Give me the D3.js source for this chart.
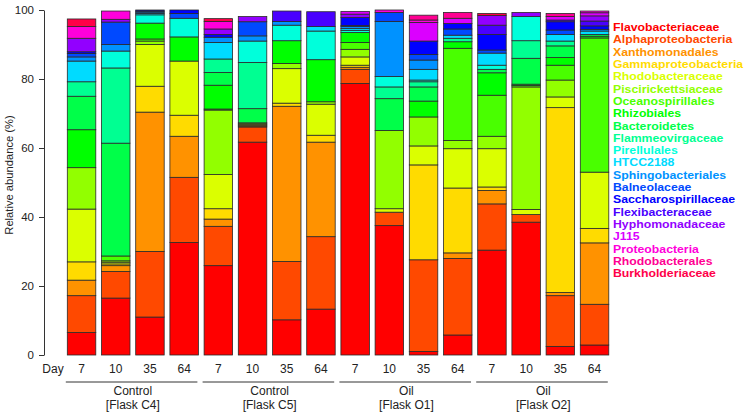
<!DOCTYPE html>
<html>
<head>
<meta charset="utf-8">
<script src="https://cdn.jsdelivr.net/npm/d3@7/dist/d3.min.js"></script>
<style>
    html, body { margin: 0; padding: 0; background: #fff; }
    svg { display: block; font-family: "Liberation Sans", Arial, Helvetica, sans-serif; }
    .axis path, .axis line { stroke: #333; }
    .axis text { fill: #222; font-size: 11.5px; }
</style>
</head>
<body>
<svg id="chart" width="750" height="418"></svg>
<script>
"use strict";

// taxa, bottom of the stack first (same order as the legend)
var taxa = [
    'Flavobacteriaceae', 'Alphaproteobacteria', 'Xanthomonadales', 'Gammaproteobacteria',
    'Rhodobacteraceae', 'Piscirickettsiaceae', 'Oceanospirillales', 'Rhizobiales',
    'Bacteroidetes', 'Flammeovirgaceae', 'Pirellulales', 'HTCC2188',
    'Sphingobacteriales', 'Balneolaceae', 'Saccharospirillaceae', 'Flexibacteraceae',
    'Hyphomonadaceae', 'J115', 'Proteobacteria', 'Rhodobacterales', 'Burkholderiaceae'
];

// rainbow(21)
var taxaColors = [
    '#FF0000', '#FF4900', '#FF9200', '#FFDB00', '#DBFF00', '#92FF00', '#49FF00',
    '#00FF00', '#00FF49', '#00FF92', '#00FFDB', '#00DBFF', '#0092FF', '#0049FF',
    '#0000FF', '#4900FF', '#9200FF', '#DB00FF', '#FF00DB', '#FF0092', '#FF0049'
];

var days = [7, 10, 35, 64];
var flasks = [
    { treatment: 'Control', flask: '[Flask C4]' },
    { treatment: 'Control', flask: '[Flask C5]' },
    { treatment: 'Oil', flask: '[Flask O1]' },
    { treatment: 'Oil', flask: '[Flask O2]' }
];

var yTicks = [0, 20, 40, 60, 80, 100];

// relative abundance (%) per sample, one row per taxon in the order above
// columns: C4 d7,10,35,64 | C5 d7,10,35,64 | O1 d7,10,35,64 | O2 d7,10,35,64
var abundance = [
    [ 6.5, 16.5, 11.0, 32.6, 25.9, 61.7, 10.2, 13.3, 78.7, 37.5,  1.0,  5.8, 30.4, 38.5,  2.5,  2.9],
    [10.7,  7.7, 19.0, 18.9, 11.4,  4.4, 16.9, 21.0,  4.1,  3.9, 26.6, 22.2, 13.4,  2.2, 14.7, 11.8],
    [ 4.5,  1.7, 40.4, 11.9,  2.1,  0.3, 45.0, 27.4,  0.6,  0.0,  0.0,  1.6,  3.9,  0.0,  0.9, 17.8],
    [ 5.3,  0.5,  7.5,  6.1,  3.0,  0.3,  0.9,  2.0,  0.6,  0.0, 27.5, 18.8,  1.0,  0.0, 53.6,  4.2],
    [15.3,  0.5, 12.1, 15.7,  9.9,  0.3, 10.0,  9.0,  2.4,  1.0,  5.5, 11.4, 11.1,  1.5,  3.1, 16.3],
    [12.0,  0.4,  1.0,  0.0, 18.7,  0.3,  1.5,  0.7,  2.2, 22.7,  8.4,  2.4,  3.6, 35.5,  4.9,  0.0],
    [ 0.0,  1.4,  0.6,  0.0,  0.3,  0.0,  0.0,  0.0,  2.0,  0.0,  0.0, 26.7, 11.9,  0.4,  4.3, 38.9],
    [11.0,  0.0,  4.6,  7.0,  6.9,  0.0,  6.6, 12.2,  2.9,  0.0,  4.6,  1.9,  6.5,  0.4,  2.2,  0.5],
    [ 9.7, 32.7,  0.0,  0.0,  3.7,  4.1,  0.0,  0.0,  0.0,  9.2,  4.1,  0.0,  1.0,  7.5,  3.4,  0.5],
    [ 4.2, 21.8,  0.0,  0.0,  3.9, 13.4,  0.0,  0.0,  0.0,  3.4,  1.5,  1.0,  0.0,  5.1,  1.4,  0.0],
    [ 0.0,  4.9,  2.4,  5.4,  0.0,  6.2,  4.5,  8.3,  0.6,  3.0,  0.5,  0.0,  1.2,  7.0,  0.0,  0.0],
    [ 6.0,  0.0,  0.4,  0.0,  4.8,  0.0,  0.0,  1.3,  0.5,  0.0,  3.1,  0.9,  3.5,  0.0,  1.9,  1.0],
    [ 1.2,  1.9,  0.4,  0.0,  1.5,  1.5,  1.1,  0.0,  0.6, 16.0,  2.7,  0.0,  0.0,  0.0,  0.0,  0.5],
    [ 1.0,  6.5,  0.3,  1.4,  0.0,  4.1,  0.0,  0.0,  0.3,  2.6,  1.6,  1.8,  0.9,  0.0,  1.3,  0.0],
    [ 0.5,  0.0,  0.3,  1.0,  0.8,  0.0,  0.0,  0.0,  2.3,  0.0,  3.9,  1.6,  4.5,  0.0,  2.4,  1.0],
    [ 0.0,  0.0,  0.0,  0.0,  0.0,  0.0,  3.0,  4.3,  0.0,  0.0,  0.0,  0.0,  2.7,  0.0,  0.5,  1.4],
    [ 3.9,  0.8,  0.0,  0.0,  1.6,  1.5,  0.0,  0.0,  1.0,  0.0,  0.0,  0.0,  2.8,  1.2,  0.0,  1.5],
    [ 0.0,  0.0,  0.0,  0.0,  0.0,  0.0,  0.0,  0.0,  0.8,  0.0,  5.4,  1.5,  0.0,  0.0,  1.0,  0.9],
    [ 3.4,  2.4,  0.0,  0.0,  2.2,  0.0,  0.0,  0.0,  0.0,  0.7,  0.7,  0.0,  0.0,  0.0,  0.0,  0.5],
    [ 0.0,  0.0,  0.0,  0.0,  0.0,  0.0,  0.0,  0.0,  0.0,  0.0,  1.4,  1.7,  0.0,  0.0,  0.9,  0.0],
    [ 2.2,  0.0,  0.0,  0.0,  0.8,  0.0,  0.0,  0.0,  0.0,  0.0,  0.0,  0.0,  0.6,  0.0,  0.0,  0.0]
];

var svg = d3.select('#chart');

// one sample per flask/day combination
var samples = [];
flasks.forEach(function(f, fi) {
    days.forEach(function(day) {
        samples.push({ index: samples.length, flask: fi, day: day });
    });
});

var x = d3.scaleBand()
    .domain(samples.map(function(s) { return s.index; }))
    .range([64.45, 611.65])
    .paddingInner(0.167)
    .paddingOuter(0.0835);

var y = d3.scaleLinear()
    .domain([0, 100])
    .range([355, 10]);

// rows = samples, columns = taxa, for d3.stack
var table = samples.map(function(s) {
    var row = { index: s.index };
    taxa.forEach(function(t, ti) {
        row[t] = abundance[ti][s.index];
    });
    return row;
});

var series = d3.stack().keys(taxa)(table);

// bars
var layers = svg.append('g')
    .attr('class', 'bars')
    .selectAll('g')
    .data(series)
    .enter()
    .append('g')
    .attr('fill', function(d, i) { return taxaColors[i]; });

layers.selectAll('rect')
    .data(function(d) { return d; })
    .enter()
    .append('rect')
    .attr('x', function(d) { return x(d.data.index); })
    .attr('width', x.bandwidth())
    .attr('y', function(d) { return y(d[1]); })
    .attr('height', function(d) { return y(d[0]) - y(d[1]); })
    .attr('stroke', '#2a2a2a')
    .attr('stroke-width', 0.8);

// y axis
var yAxis = svg.append('g')
    .attr('class', 'axis')
    .attr('transform', 'translate(44,0)')
    .call(d3.axisLeft(y).tickValues(yTicks).tickSizeInner(5).tickSizeOuter(0).tickPadding(4));

yAxis.selectAll('text').attr('dx', '-1');

svg.append('text')
    .attr('transform', 'translate(13,175) rotate(-90)')
    .attr('text-anchor', 'middle')
    .attr('font-size', 11.2)
    .attr('fill', '#222')
    .text('Relative abundance (%)');

// day labels
var labelY = 369;

svg.append('text')
    .attr('x', 53)
    .attr('y', labelY)
    .attr('dy', '0.35em')
    .attr('text-anchor', 'middle')
    .attr('font-size', 12)
    .attr('fill', '#222')
    .text('Day');

svg.append('g')
    .selectAll('text')
    .data(samples)
    .enter()
    .append('text')
    .attr('x', function(d) { return x(d.index) + x.bandwidth() / 2; })
    .attr('y', labelY)
    .attr('dy', '0.35em')
    .attr('text-anchor', 'middle')
    .attr('font-size', 12)
    .attr('fill', '#222')
    .text(function(d) { return d.day; });

// flask groups: underline + two-line label
var groups = svg.append('g')
    .selectAll('g')
    .data(flasks)
    .enter()
    .append('g');

function groupStart(fi) { return x(fi * days.length); }
function groupEnd(fi) { return x(fi * days.length + days.length - 1) + x.bandwidth(); }

groups.append('line')
    .attr('x1', function(d, i) { return groupStart(i) - 1.5; })
    .attr('x2', function(d, i) { return groupEnd(i) - 1; })
    .attr('y1', 382)
    .attr('y2', 382)
    .attr('stroke', '#333')
    .attr('stroke-width', 1);

groups.append('text')
    .attr('x', function(d, i) { return (groupStart(i) + groupEnd(i)) / 2; })
    .attr('y', 391)
    .attr('dy', '0.35em')
    .attr('text-anchor', 'middle')
    .attr('font-size', 12)
    .attr('fill', '#222')
    .text(function(d) { return d.treatment; });

groups.append('text')
    .attr('x', function(d, i) { return (groupStart(i) + groupEnd(i)) / 2; })
    .attr('y', 405)
    .attr('dy', '0.35em')
    .attr('text-anchor', 'middle')
    .attr('font-size', 12)
    .attr('fill', '#222')
    .text(function(d) { return d.flask; });

// legend: lines are packed tightly, the glyphs are wide and short
svg.append('g')
    .attr('class', 'legend')
    .attr('transform', 'translate(613,0) scale(1.17,1)')
    .selectAll('text')
    .data(taxa)
    .enter()
    .append('text')
    .attr('x', 0)
    .attr('y', function(d, i) { return 27.5 + i * 12.3; })
    .attr('dy', '0.35em')
    .attr('font-size', 10.5)
    .attr('font-weight', 'bold')
    .attr('fill', function(d, i) { return taxaColors[i]; })
    .text(function(d) { return d; });
</script>
</body>
</html>
